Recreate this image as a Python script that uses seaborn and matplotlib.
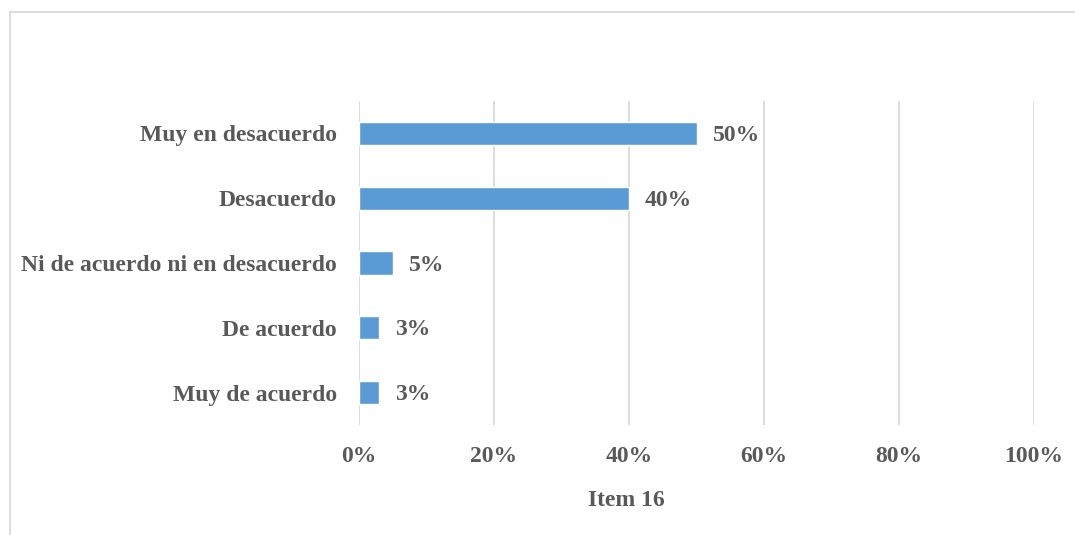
import matplotlib
matplotlib.use("Agg")
import matplotlib.pyplot as plt
from matplotlib.lines import Line2D
from matplotlib.ticker import FuncFormatter
import seaborn as sns
import pandas as pd

categories = ["Muy en desacuerdo", "Desacuerdo", "Ni de acuerdo ni en desacuerdo",
              "De acuerdo", "Muy de acuerdo"]
values = [50, 40, 5, 3, 3]
value_labels = ["50%", "40%", "5%", "3%", "3%"]
x_ticks = [0, 20, 40, 60, 80, 100]
axis_title = "Item 16"

sns.set_theme(style="white")
plt.rcParams["font.family"] = ["Liberation Serif", "DejaVu Serif"]
plt.rcParams["font.weight"] = "bold"

text_color = "#595959"
grid_color = "#D9D9D9"
bar_color = "#5B9BD5"
fs = 17

W, H = 1075, 535
fig = plt.figure(figsize=(W / 100, H / 100), dpi=100)
ax = fig.add_axes([359 / W, 1 - 425 / H, (1034 - 359) / W, (425 - 101) / H])

df = pd.DataFrame({"category": categories, "value": values})
sns.barplot(data=df, x="value", y="category", orient="h", color=bar_color,
            width=0.36, ax=ax, saturation=1)

ax.set_xlim(0, 100)
ax.set_xticks(x_ticks)
ax.xaxis.set_major_formatter(FuncFormatter(lambda v, _: f"{v:.0f}%"))
ax.grid(axis="x", color=grid_color, linewidth=1.3)
ax.grid(axis="y", visible=False)
ax.set_axisbelow(True)
for s in ax.spines.values():
    s.set_visible(False)

ax.tick_params(axis="x", length=0, pad=15, labelsize=fs, labelcolor=text_color)
ax.tick_params(axis="y", length=0, pad=16, labelsize=fs, labelcolor=text_color)
for lbl in ax.get_xticklabels() + ax.get_yticklabels():
    lbl.set_fontweight("bold")
ax.set_xlabel("")
ax.set_ylabel("")

for patch, txt in zip(ax.patches, value_labels):
    y = patch.get_y() + patch.get_height() / 2
    ax.annotate(txt, (patch.get_width(), y), xytext=(11.5, -1.5), textcoords="offset points",
                ha="left", va="center", fontsize=fs, fontweight="bold", color=text_color)

fig.text(626 / W, 1 - 501 / H, axis_title, ha="center", va="center",
         fontsize=fs, fontweight="bold", color=text_color)

# light chart-area border along the top and left
fig.add_artist(Line2D([9.5 / W, 1], [1 - 11.5 / H, 1 - 11.5 / H], color=grid_color, linewidth=1.3))
fig.add_artist(Line2D([9.5 / W, 9.5 / W], [0, 1 - 11.5 / H], color=grid_color, linewidth=1.3))

fig.savefig("out.png", dpi=100, facecolor="white")
